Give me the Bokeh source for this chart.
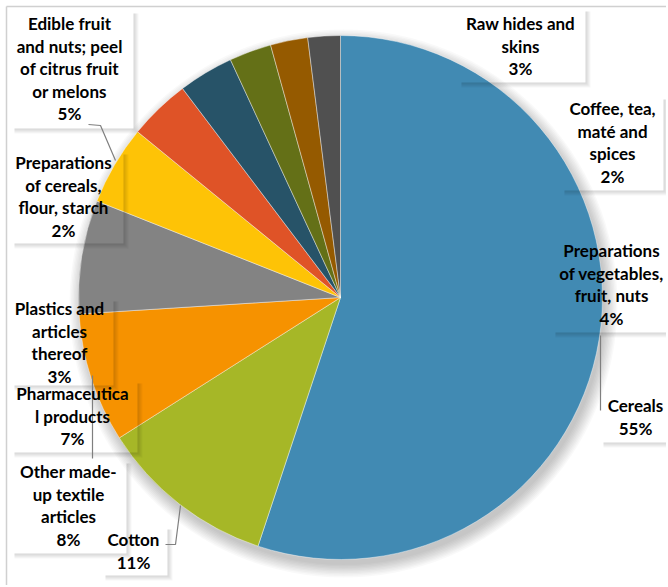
import numpy as np
from bokeh.plotting import figure
from bokeh.models import Range1d, ColumnDataSource
from bokeh.core.properties import value
from bokeh.embed import file_html
from bokeh.resources import INLINE

# ---------------- data ----------------
categories = [
    "Cereals", "Cotton", "Other made-up textile articles", "Pharmaceutical products",
    "Edible fruit and nuts; peel of citrus fruit or melons",
    "Preparations of vegetables, fruit, nuts", "Plastics and articles thereof",
    "Raw hides and skins", "Preparations of cereals, flour, starch",
    "Coffee, tea, maté and spices",
]
shares = [55.1, 10.9, 8.0, 7.0, 4.9, 3.8, 3.4, 2.6, 2.3, 2.0]
label_lines = [
    ["Cereals"], ["Cotton"], ["Other made-", "up textile", "articles"],
    ["Pharmaceutica", "l products"],
    ["Edible fruit", "and nuts; peel", "of citrus fruit", "or melons"],
    ["Preparations", "of vegetables,", "fruit, nuts"],
    ["Plastics and", "articles", "thereof"],
    ["Raw hides and", "skins"],
    ["Preparations", "of cereals,", "flour, starch"],
    ["Coffee, tea,", "maté and", "spices"],
]
colors = ["#418AB3", "#A6B727", "#F69200", "#838383", "#FEC306",
          "#DF5327", "#275368", "#647017", "#955A00", "#505050"]

# ---------------- layout (page pixel coords, origin top-left) ----------------
W, H = 666, 585
def Y(py):
    return H - py

# label centre x and first-line y; box (l, t, r, b)
label_pos = [(635, 405), (133, 539), (68, 471), (72, 393), (69, 23),
             (611, 250), (59, 308), (520, 23), (63, 162), (612, 108)]
LINE = 22.6
boxes = [(597, 390, 668, 442), (99, 523, 167, 575), (8, 457, 126, 553),
         (8, 377, 137, 452), (8, 7, 133, 128), (549, 235, 668, 332),
         (8, 295, 113, 385), (455, 5, 585, 82), (8, 148, 123, 243),
         (558, 93, 663, 190)]
leaders = [
    [(600, 410), (600, 335)],
    [(165, 544), (175, 544), (180, 505)],
    [(92, 458), (92, 375)],
    None,
    [(88, 124), (100, 125), (115, 160)],
    None, None, None, None, None,
]

p = figure(width=W, height=H, output_backend="svg", toolbar_location=None,
           x_range=Range1d(0, W), y_range=Range1d(0, H), min_border=0)
p.axis.visible = False
p.grid.visible = False
p.outline_line_color = None
p.background_fill_color = "white"
p.border_fill_color = "white"

# chart border (top and left visible)
p.segment(x0=[6, 6], y0=[Y(6), Y(6)], x1=[W, 6], y1=[Y(6), 0],
          line_color="#D0D0D0", line_width=1.5)

cx, cy, R = 340, Y(297), 262

# soft pie shadow
for k in range(10):
    p.circle(x=cx + 3, y=cy - 6, radius=R + 12 - k * 1.4, fill_color="black",
             fill_alpha=0.025, line_color=None)

# wedges
frac = np.array(shares) / np.sum(shares)
cum = np.concatenate([[0], np.cumsum(frac)])
src = ColumnDataSource(dict(
    start=np.pi / 2 - cum[:-1] * 2 * np.pi,
    end=np.pi / 2 - cum[1:] * 2 * np.pi,
    color=colors, cat=categories,
))
p.wedge(x=cx, y=cy, radius=R, start_angle="start", end_angle="end",
        direction="clock", fill_color="color", line_color="white",
        line_width=0.6, line_alpha=0.7, source=src)

# box shadows (right and bottom soft edges)
for (l, t, r, b) in boxes:
    for i in range(5):
        a = 0.16 * (1 - i / 5)
        p.quad(left=r + i, right=r + i + 1, top=Y(t + 6), bottom=Y(b + i + 1),
               fill_color="black", fill_alpha=a, line_color=None)
        p.quad(left=l + 6, right=r + i, top=Y(b + i), bottom=Y(b + i + 1),
               fill_color="black", fill_alpha=a, line_color=None)

# leader lines
for ld in leaders:
    if ld:
        p.line(x=[q[0] for q in ld], y=[Y(q[1]) for q in ld],
               line_color="#7F7F7F", line_width=1.2)

# labels, one text item per line
tx, ty, tt = [], [], []
for ls, v, (lx, ly) in zip(label_lines, shares, label_pos):
    for i, s in enumerate(ls + [f"{round(v)}%"]):
        tx.append(lx)
        ty.append(Y(ly + i * LINE))
        tt.append(s)
p.text(x=tx, y=ty, text=tt,
       text_font=value("Lato"), text_font_style="bold", text_font_size="17px",
       text_color="black", text_align="center", text_baseline="middle")

open("out.html", "w").write(file_html(p, INLINE))
